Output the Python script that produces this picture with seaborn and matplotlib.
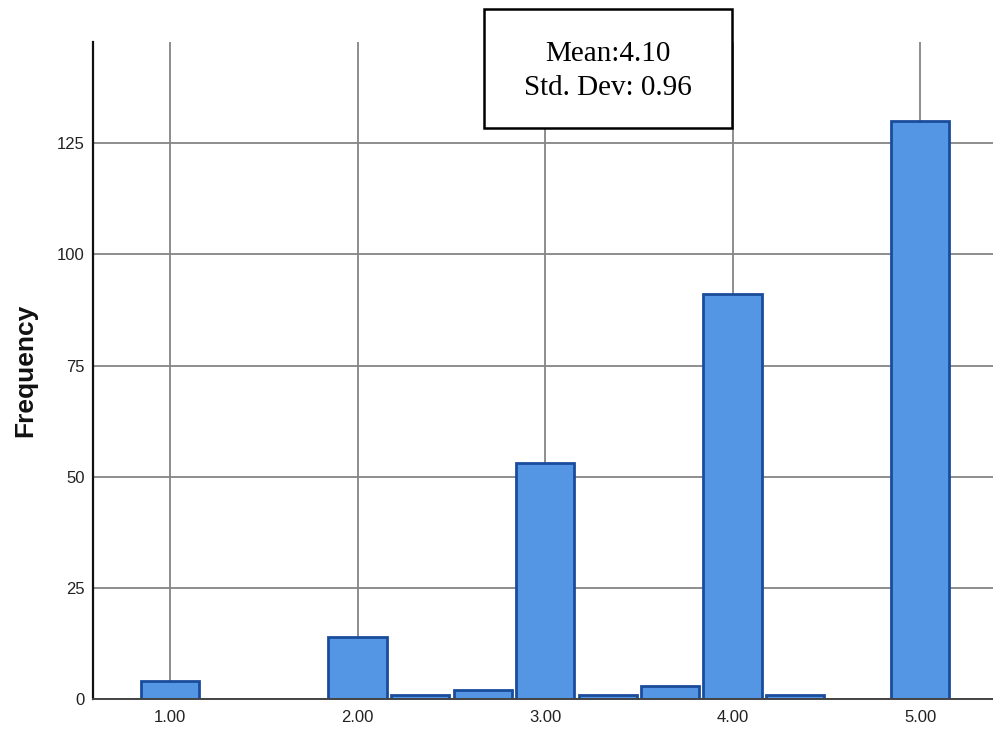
import numpy as np
import pandas as pd
import matplotlib
matplotlib.use("Agg")
import matplotlib.pyplot as plt
from matplotlib.patches import Rectangle
import seaborn as sns

# bin centres (width 1/3) and counts
values = [1.0, 1.333, 1.667, 2.0, 2.333, 2.667, 3.0, 3.333, 3.667, 4.0, 4.333, 4.667, 5.0]
counts = [4, 0, 0, 14, 1, 2, 53, 1, 3, 91, 1, 0, 130]
tick_vals = [1, 2, 3, 4, 5]
tick_labels = ["1.00", "2.00", "3.00", "4.00", "5.00"]
box_text = "Mean:4.10\nStd. Dev: 0.96"

df = pd.DataFrame({"score": values, "n": counts})

sns.set_style("white")
plt.rcParams['font.family'] = ['Liberation Sans', 'DejaVu Sans']

fig = plt.figure(figsize=(9.93, 7.33), dpi=100)
ax = fig.add_axes([93 / 993, 34 / 733, 900 / 993, 657 / 733])

sns.histplot(data=df, x="score", weights="n", binwidth=1 / 3,
             binrange=(1 - 1 / 6, 5 + 1 / 6), shrink=0.93,
             color="#5596e4", edgecolor="#1a4c9c", linewidth=2.0, alpha=1, ax=ax)

# drop empty bins so no edge line is drawn on the axis
for p in list(ax.patches):
    if p.get_height() == 0:
        p.remove()

ax.set_xlim(0.589, 5.389)
ax.set_ylim(0, 147.8)
ax.set_xticks(tick_vals)
ax.set_xticklabels(tick_labels)
ax.set_yticks([0, 25, 50, 75, 100, 125])
ax.tick_params(axis="both", length=0, labelsize=12, colors="#222222")
ax.tick_params(axis="x", pad=8)
ax.tick_params(axis="y", pad=6)

ax.set_axisbelow(True)
ax.grid(True, axis="both", color="#858585", linewidth=1.3)

ax.set_xlabel("")
ax.set_ylabel("Frequency", fontsize=19, fontweight="bold", color="#111111")
ax.yaxis.set_label_coords(-0.062, 0.5)

for s in ["top", "right"]:
    ax.spines[s].set_visible(False)
ax.spines["left"].set_color("#111111")
ax.spines["left"].set_linewidth(1.6)
ax.spines["bottom"].set_color("#444444")
ax.spines["bottom"].set_linewidth(1.4)

# statistics box
fig.patches.append(Rectangle((484 / 993, 1 - 128 / 733), 248 / 993, 119 / 733,
                             transform=fig.transFigure, facecolor="white",
                             edgecolor="black", linewidth=1.8, zorder=5))
fig.text(608 / 993, 1 - 71 / 733, box_text, ha="center", va="center",
         fontsize=21, family=["Liberation Serif", "DejaVu Serif"],
         linespacing=1.4, color="black", zorder=6)

fig.savefig("out.png", dpi=100)
